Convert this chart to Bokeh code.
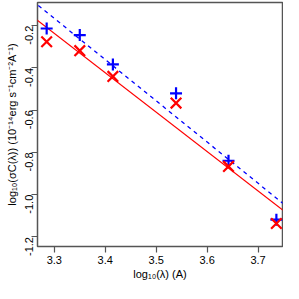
import math
import numpy as np
from bokeh.plotting import figure
from bokeh.models import FixedTicker, Range1d
from bokeh.embed import file_html
from bokeh.resources import INLINE

# data
log_lambda = [3.285, 3.350, 3.415, 3.539, 3.642, 3.736]
sigma_blue = [-0.213, -0.244, -0.383, -0.520, -0.839, -1.118]
sigma_red = [-0.276, -0.318, -0.440, -0.566, -0.866, -1.136]
fit_red = [5.918, -1.865]    # intercept, slope
fit_blue = [6.273, -1.951]   # intercept, slope
x_ticks = [3.3, 3.4, 3.5, 3.6, 3.7]
x_tick_labels = ["3.3", "3.4", "3.5", "3.6", "3.7"]
y_ticks = [-1.2, -1.0, -0.8, -0.6, -0.4, -0.2]
y_tick_labels = ["-1.2", "-1.0", "-0.8", "-0.6", "-0.4", "-0.2"]

FONT = "Liberation Sans"

p = figure(width=283, height=283, output_backend="svg", toolbar_location=None,
           x_range=Range1d(3.267, 3.748), y_range=Range1d(-1.245, -0.09),
           min_border_left=37, min_border_right=1, min_border_top=2, min_border_bottom=37)

p.outline_line_color = "#555555"
p.outline_line_width = 1.5
p.xgrid.visible = False
p.ygrid.visible = False
p.background_fill_color = "white"
p.border_fill_color = "white"

xs = np.array([3.0, 4.0])
p.line(xs, fit_red[0] + fit_red[1] * xs, line_color="#FF0000", line_width=1.2)
p.line(xs, fit_blue[0] + fit_blue[1] * xs, line_color="#0000FF", line_width=1.3, line_dash="4 4")

p.scatter(log_lambda, sigma_blue, marker="cross", size=12, line_color="#0000FF", line_width=2.2)
p.scatter(log_lambda, sigma_red, marker="x", size=15, line_color="#FF0000", line_width=2.2)

for ax in (p.xaxis[0], p.yaxis[0]):
    ax.axis_line_color = None
    ax.major_tick_line_color = "#555555"
    ax.major_tick_line_width = 1.2
    ax.major_tick_in = 0
    ax.major_tick_out = 6
    ax.minor_tick_line_color = None
    ax.major_label_text_font = FONT
    ax.major_label_text_font_size = "11px"
    ax.major_label_text_color = "black"
    ax.axis_label_text_font = FONT
    ax.axis_label_text_font_size = "11px"
    ax.axis_label_text_font_style = "normal"
    ax.axis_label_text_color = "black"

p.xaxis.ticker = FixedTicker(ticks=x_ticks)
p.xaxis.major_label_overrides = dict(zip(x_ticks, x_tick_labels))
p.xaxis.major_label_standoff = 3
p.xaxis.axis_label = "log₁₀(λ) (A)"
p.xaxis.axis_label_standoff = 1

p.yaxis.ticker = FixedTicker(ticks=y_ticks)
p.yaxis.major_label_overrides = dict(zip(y_ticks, y_tick_labels))
p.yaxis.major_label_orientation = math.pi / 2
p.yaxis.major_label_standoff = 2
p.yaxis.axis_label = "log₁₀(σC(λ)) (10⁻¹⁴erg s⁻¹cm⁻²A⁻¹)"
p.yaxis.axis_label_standoff = 1

open("out.html", "w").write(file_html(p, INLINE))
